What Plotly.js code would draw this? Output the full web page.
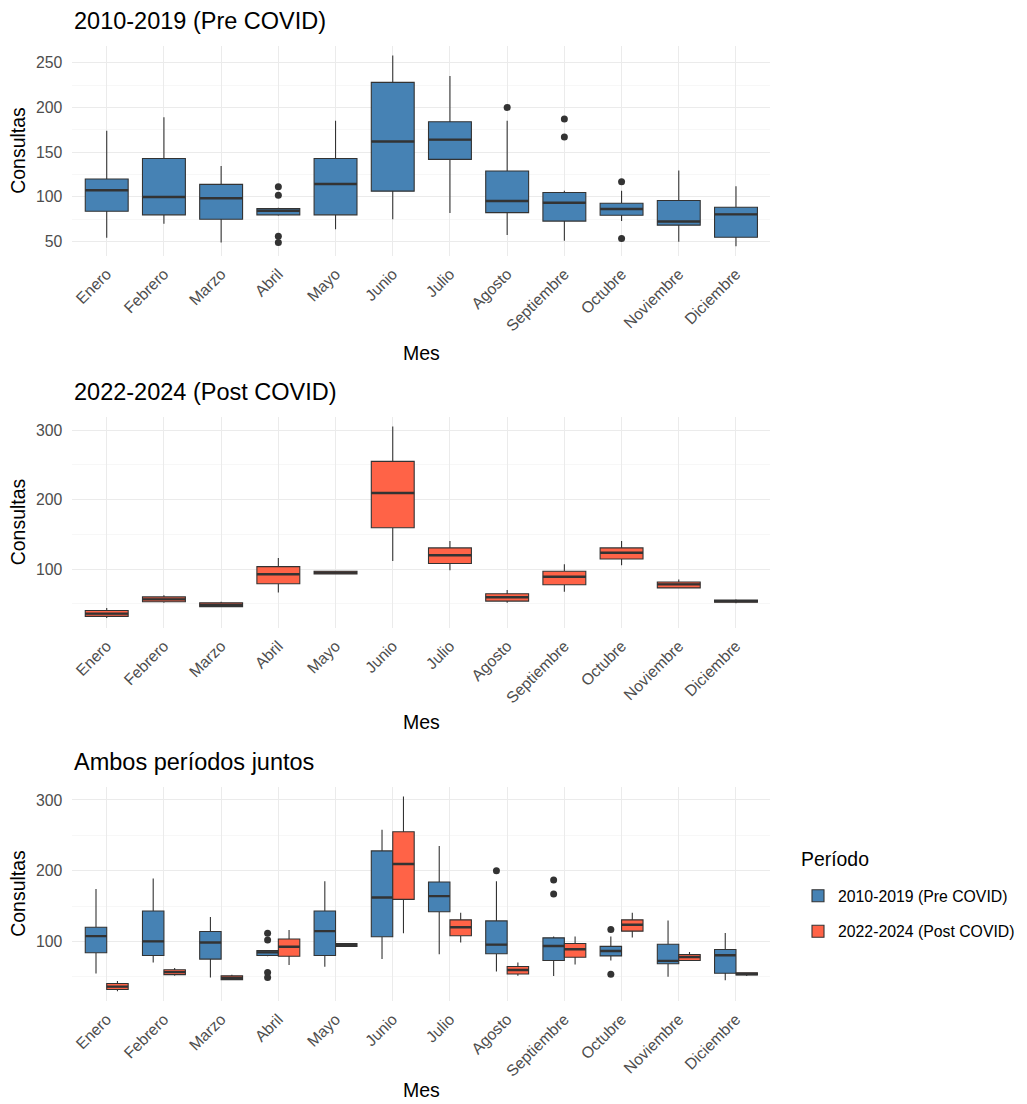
<!DOCTYPE html>
<html>
<head>
<meta charset="utf-8">
<script src="https://cdn.plot.ly/plotly-3.0.1.min.js"></script>
<style>html,body{margin:0;padding:0;background:#fff;}#chart{width:1027px;height:1104px;}</style>
</head>
<body>
<div id="chart"></div>
<script>
// ---------- data ----------
const months = ['Enero','Febrero','Marzo','Abril','Mayo','Junio','Julio','Agosto','Septiembre','Octubre','Noviembre','Diciembre'];

// 2010-2019 (Pre COVID)
const preLow  = [54.5, 70, 49, 79, 64, 75, 82, 57.5, 51, 73, 50, 45];
const preQ1   = [84, 80, 75, 80, 80, 106.5, 142, 82.5, 73, 79.5, 68.5, 55];
const preMed  = [107.5, 100, 98.5, 84.5, 114.5, 162, 164, 95.5, 93.5, 86.5, 72.5, 80.5];
const preQ3   = [120, 143, 114, 87, 143, 228, 184, 129, 105, 93, 96, 88.5];
const preHigh = [174, 189, 134.5, 88, 185, 258, 235, 185, 107, 107, 129.5, 112];
const preOut  = [[], [], [], [111.5, 102, 56, 49], [], [], [], [200], [187, 167], [117, 53.5], [], []];

// 2022-2024 (Post COVID)
const postLow  = [29.5, 51.5, 45.5, 66.5, 92.5, 111.5, 98.5, 51.5, 67.5, 105.5, 72.5, 51];
const postQ1   = [32, 53, 46, 79, 93, 159.5, 108, 54, 77.5, 114.5, 73, 52.5];
const postMed  = [36, 56.5, 48.5, 92.5, 95, 209.5, 120, 59.5, 89, 123.5, 78, 54];
const postQ3   = [40.5, 60, 51.5, 103.5, 97, 255, 130.5, 64.5, 97, 130.5, 81.5, 55.5];
const postHigh = [44, 62.5, 53, 116, 97.5, 305, 140.5, 70, 107, 140.5, 85, 56.5];
const postOut  = [[], [], [], [], [], [], [], [], [], [], [], []];

const preName = '2010-2019 (Pre COVID)';
const postName = '2022-2024 (Post COVID)';
const panelTitles = ['2010-2019 (Pre COVID)', '2022-2024 (Post COVID)', 'Ambos períodos juntos'];
const xTitle = 'Mes';
const yTitle = 'Consultas';
const legendTitle = 'Período';

// ---------- style ----------
const BLUE = '#4682B4', RED = '#FF6347', EDGE = '#333333';
const FONT = 'Liberation Sans, Arial, sans-serif';
const BOXGAP = 0.25;

const pre  = {name: preName,  low: preLow,  q1: preQ1,  med: preMed,  q3: preQ3,  high: preHigh,  out: preOut,  fill: BLUE, grp: 'pre'};
const post = {name: postName, low: postLow, q1: postQ1, med: postMed, q3: postQ3, high: postHigh, out: postOut, fill: RED,  grp: 'post'};

function boxTraces(s, ax, showlegend) {
  const main = {
    type: 'box', name: s.name, x: months,
    q1: s.q1, median: s.med, q3: s.q3, lowerfence: s.low, upperfence: s.high,
    xaxis: 'x' + ax, yaxis: 'y' + ax,
    offsetgroup: s.grp, legendgroup: s.grp, showlegend: showlegend,
    fillcolor: s.fill, line: {color: EDGE, width: 1.1}, whiskerwidth: 0,
    boxpoints: false, hoverinfo: 'skip'
  };
  // thicker median line, as in the reference
  const med = {
    type: 'box', name: s.name, x: months,
    q1: s.med, median: s.med, q3: s.med, lowerfence: s.med, upperfence: s.med,
    xaxis: 'x' + ax, yaxis: 'y' + ax,
    offsetgroup: s.grp, legendgroup: s.grp, showlegend: false,
    fillcolor: 'rgba(0,0,0,0)', line: {color: EDGE, width: 2.4}, whiskerwidth: 0,
    boxpoints: false, hoverinfo: 'skip'
  };
  return [main, med];
}

// outlier points; offset (in category units) used when boxes are dodged
function outlierTrace(s, xa, ya, offset) {
  const xs = [], ys = [];
  s.out.forEach((arr, i) => arr.forEach(v => {
    xs.push(offset === null ? months[i] : i + offset);
    ys.push(v);
  }));
  return {
    type: 'scatter', mode: 'markers', x: xs, y: ys, xaxis: xa, yaxis: ya,
    marker: {color: EDGE, size: 7, line: {width: 0}},
    showlegend: false, hoverinfo: 'skip', cliponaxis: false
  };
}

function rangeOf(list) {
  let lo = Infinity, hi = -Infinity;
  list.forEach(s => {
    s.low.forEach(v => { lo = Math.min(lo, v); });
    s.high.forEach(v => { hi = Math.max(hi, v); });
    s.out.forEach(a => a.forEach(v => { lo = Math.min(lo, v); hi = Math.max(hi, v); }));
  });
  const pad = (hi - lo) * 0.05;
  return [lo - pad, hi + pad];
}

const dodge = (1 - BOXGAP) / 4;
const data = [].concat(
  boxTraces(pre, '', false),
  [outlierTrace(pre, 'x', 'y', null)],
  boxTraces(post, '2', false),
  [outlierTrace(post, 'x2', 'y2', null)],
  boxTraces(pre, '3', true),
  boxTraces(post, '3', true),
  [outlierTrace(pre, 'x4', 'y3', -dodge), outlierTrace(post, 'x4', 'y3', dodge)]
);

// pixel geometry of the panels
const W = 1027, H = 1104;
const xDom = [72.4 / W, 770.3 / W];
const xRange = [-0.6, months.length - 0.4];
const panels = [
  {top: 46,    bottom: 255.7, dtick: 50,  minor: 25, mes: 353},
  {top: 417,   bottom: 627.7, dtick: 100, minor: 50, mes: 722},
  {top: 786.7, bottom: 1001,  dtick: 100, minor: 50, mes: 1090}
];
const ranges = [rangeOf([pre]), rangeOf([post]), rangeOf([pre, post])];

const tickFont = {family: FONT, size: 15.8, color: '#4D4D4D'};
const layout = {
  width: W, height: H, autosize: false,
  margin: {l: 0, r: 0, t: 0, b: 0},
  paper_bgcolor: '#fff', plot_bgcolor: '#fff',
  boxmode: 'group', boxgap: BOXGAP, boxgroupgap: 0,
  font: {family: FONT, color: '#000'},
  showlegend: true,
  legend: {
    x: 798 / W, y: 1 - 879 / H, xanchor: 'left', yanchor: 'top',
    font: {family: FONT, size: 15.8, color: '#000'},
    traceorder: 'grouped', tracegroupgap: 12,
    bgcolor: 'rgba(0,0,0,0)'
  },
  annotations: [{
    text: legendTitle, xref: 'paper', yref: 'paper',
    x: 799 / W, y: 1 - 859 / H, xanchor: 'left', yanchor: 'middle',
    showarrow: false, font: {family: FONT, size: 19.4, color: '#000'}
  }]
};

panels.forEach((p, i) => {
  const sfx = i === 0 ? '' : String(i + 1);
  const yDom = [1 - p.bottom / H, 1 - p.top / H];
  layout['xaxis' + sfx] = {
    domain: xDom, anchor: 'y' + sfx, type: 'category',
    categoryorder: 'array', categoryarray: months,
    range: xRange,
    showgrid: true, gridcolor: '#EBEBEB', gridwidth: 1,
    zeroline: false, showline: false, ticks: '',
    tickangle: -45, tickfont: tickFont, ticklabelstandoff: 5,
    fixedrange: true
  };
  layout['yaxis' + sfx] = {
    domain: yDom, anchor: 'x' + sfx, range: ranges[i],
    tick0: 0, dtick: p.dtick,
    showgrid: true, gridcolor: '#EBEBEB', gridwidth: 1,
    minor: {tick0: 0, dtick: p.minor, showgrid: true, gridcolor: '#F3F3F3', gridwidth: 0.7, ticks: ''},
    zeroline: false, showline: false, ticks: '',
    tickfont: tickFont, ticklabelstandoff: 9,
    fixedrange: true
  };
  layout.annotations.push({
    text: panelTitles[i], xref: 'paper', yref: 'paper',
    x: xDom[0], y: 1 - (p.top - 25) / H, xanchor: 'left', yanchor: 'middle',
    showarrow: false, font: {family: FONT, size: 23.5, color: '#000'}
  });
  layout.annotations.push({
    text: xTitle, xref: 'paper', yref: 'paper',
    x: (xDom[0] + xDom[1]) / 2, y: 1 - p.mes / H, xanchor: 'center', yanchor: 'middle',
    showarrow: false, font: {family: FONT, size: 19.5, color: '#000'}
  });
  layout.annotations.push({
    text: yTitle, xref: 'paper', yref: 'paper',
    x: 18 / W, y: 1 - ((p.top + p.bottom) / 2) / H, xanchor: 'center', yanchor: 'middle',
    textangle: -90, showarrow: false, font: {family: FONT, size: 19.5, color: '#000'}
  });
});

// hidden linear axis over panel 3, used to place dodged outliers
layout.xaxis4 = {
  domain: xDom, anchor: 'y3', overlaying: 'x3', range: xRange,
  visible: false, showgrid: false, zeroline: false, fixedrange: true
};

Plotly.newPlot('chart', data, layout, {displayModeBar: false, staticPlot: true});
</script>
</body>
</html>
